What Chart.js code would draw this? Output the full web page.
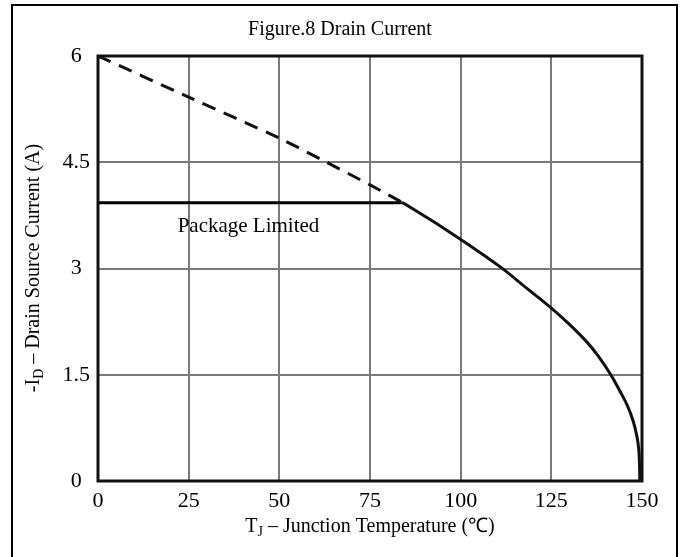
<!DOCTYPE html>
<html>
<head>
<meta charset="utf-8">
<style>
  body { margin: 0; background: #fff; }
  #wrap { width: 684px; height: 557px; }
</style>
<script src="https://cdn.jsdelivr.net/npm/chart.js@4/dist/chart.umd.min.js"></script>
</head>
<body>
<div id="wrap"><canvas id="chart" width="684" height="557"></canvas></div>
<script>
// values
const xTicks = [0, 25, 50, 75, 100, 125, 150];
const yTicks = [0, 1.5, 3, 4.5, 6];

// dashed part (above package limit)
const dashTemp = [0, 25, 50, 63, 75, 84];
const dashCurrent = [6.0, 5.42, 4.84, 4.5, 4.18, 3.93];

// solid derating curve
const curveTemp = [84, 90, 95, 100, 106, 112, 118, 125, 130, 135, 138, 141.4, 144, 146, 147.6, 148.6, 149.1, 149.3, 149.4];
const curveCurrent = [3.93, 3.74, 3.58, 3.41, 3.20, 2.98, 2.73, 2.44, 2.21, 1.95, 1.76, 1.5, 1.26, 1.06, 0.84, 0.63, 0.45, 0.25, 0];

// package limited line
const limitTemp = [0, 84];
const limitCurrent = [3.93, 3.93];

const FONT = "'Liberation Serif', 'Times New Roman', serif";

function pts(xs, ys) {
    return xs.map((x, i) => ({ x: x, y: ys[i] }));
}

const decor = {
    id: "decor",
    beforeDraw(chart) {
        const ctx = chart.ctx;
        ctx.save();
        ctx.fillStyle = "#fff";
        ctx.fillRect(0, 0, chart.width, chart.height);
        ctx.strokeStyle = "#000";
        ctx.lineWidth = 2;
        ctx.strokeRect(12, 5, 665, 570);
        ctx.restore();
    },
    afterDraw(chart) {
        const ctx = chart.ctx;
        const a = chart.chartArea;
        const xs = chart.scales.x, ys = chart.scales.y;
        ctx.save();
        // plot frame
        ctx.strokeStyle = "#111";
        ctx.lineWidth = 3;
        ctx.strokeRect(a.left, a.top, a.right - a.left, a.bottom - a.top);

        ctx.fillStyle = "#000";
        ctx.textBaseline = "middle";

        // title
        ctx.font = "20px " + FONT;
        ctx.textAlign = "center";
        ctx.fillText("Figure.8 Drain Current", 340, 30);

        // label
        ctx.font = "21px " + FONT;
        ctx.fillText("Package Limited", xs.getPixelForValue(41.5), ys.getPixelForValue(3.6));

        // x axis title with subscript
        drawSub(ctx, "T", "J", " \u2013 Junction Temperature (\u2103)", 370, 527);

        // y axis title, rotated
        ctx.translate(34, 268);
        ctx.rotate(-Math.PI / 2);
        drawSub(ctx, "-I", "D", " \u2013 Drain Source Current (A)", 0, 0);
        ctx.restore();
    }
};

function drawSub(ctx, a, sub, b, cx, cy) {
    const big = "20px " + FONT, small = "14px " + FONT;
    ctx.font = big;
    const wa = ctx.measureText(a).width, wb = ctx.measureText(b).width;
    ctx.font = small;
    const ws = ctx.measureText(sub).width;
    let x = cx - (wa + ws + wb) / 2;
    ctx.textAlign = "left";
    ctx.font = big;
    ctx.fillText(a, x, cy);
    x += wa;
    ctx.font = small;
    ctx.fillText(sub, x, cy + 5);
    x += ws;
    ctx.font = big;
    ctx.fillText(b, x, cy);
}

new Chart(document.getElementById("chart"), {
    type: "scatter",
    data: {
        datasets: [
            {
                data: pts(dashTemp, dashCurrent),
                showLine: true,
                borderColor: "#111",
                borderWidth: 3,
                borderDash: [14, 9],
                pointRadius: 0,
                tension: 0.3
            },
            {
                data: pts(curveTemp, curveCurrent),
                showLine: true,
                borderColor: "#111",
                borderWidth: 3,
                pointRadius: 0,
                tension: 0.4
            },
            {
                data: pts(limitTemp, limitCurrent),
                showLine: true,
                borderColor: "#000",
                borderWidth: 3,
                pointRadius: 0
            }
        ]
    },
    options: {
        responsive: false,
        animation: false,
        layout: { padding: { left: 0, top: 56, right: 42, bottom: 0 } },
        plugins: { legend: { display: false }, tooltip: { enabled: false } },
        scales: {
            x: {
                type: "linear",
                min: 0,
                max: 150,
                afterBuildTicks: s => { s.ticks = xTicks.map(v => ({ value: v })); },
                afterFit: s => { s.height = 76; },
                ticks: { color: "#000", font: { family: FONT, size: 22 }, padding: 7, maxRotation: 0 },
                grid: { color: "#7a7a7a", lineWidth: 2, drawTicks: false },
                border: { display: false }
            },
            y: {
                type: "linear",
                min: 0,
                max: 6,
                afterBuildTicks: s => { s.ticks = yTicks.map(v => ({ value: v })); },
                afterFit: s => { s.width = 98; },
                ticks: { color: "#000", font: { family: FONT, size: 22 }, padding: 8, crossAlign: "center", callback: v => String(v) },
                grid: { color: "#7a7a7a", lineWidth: 2, drawTicks: false },
                border: { display: false }
            }
        }
    },
    plugins: [decor]
});
</script>
</body>
</html>
